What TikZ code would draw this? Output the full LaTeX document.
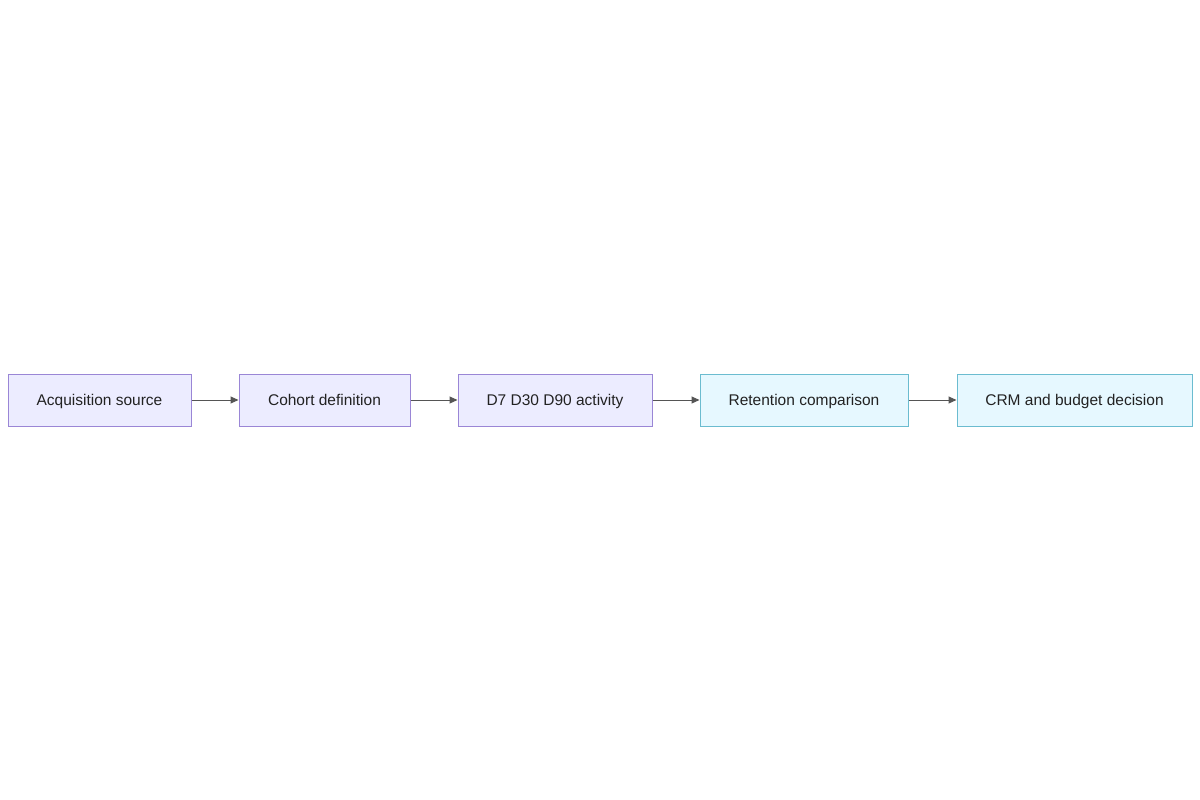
\documentclass[tikz,border=0pt]{standalone}
\usepackage{fontspec}
\setmainfont{Liberation Sans}
\usetikzlibrary{arrows.meta}
\definecolor{pfill}{HTML}{ECECFF}
\definecolor{pdraw}{HTML}{9A86D6}
\definecolor{cfill}{HTML}{E6F8FF}
\definecolor{cdraw}{HTML}{6BBCD0}
\definecolor{edge}{HTML}{555555}
\definecolor{txt}{HTML}{222222}
\begin{document}
\begin{tikzpicture}[x=1pt,y=-1pt,
  box/.style={draw=pdraw,fill=pfill,line width=1pt,minimum height=52pt,inner sep=0pt,text height=12pt,text depth=2pt,text=txt,font=\fontsize{15.5}{18}\selectfont},
  cbox/.style={box,draw=cdraw,fill=cfill},
  conn/.style={draw=edge,line width=1pt,-{Triangle[length=8pt,width=7pt]}}]
\path[fill=white] (0,0) rectangle (1200,800);
\node[box,minimum width=183pt] (a) at (99.5,400) {Acquisition source};
\node[box,minimum width=171pt] (b) at (324.5,400) {Cohort definition};
\node[box,minimum width=194pt] (c) at (555,400) {D7 D30 D90 activity};
\node[cbox,minimum width=208pt] (d) at (804,400) {Retention comparison};
\node[cbox,minimum width=235pt] (e) at (1074.5,400) {CRM and budget decision};
\draw[conn] (a) -- (b);
\draw[conn] (b) -- (c);
\draw[conn] (c) -- (d);
\draw[conn] (d) -- (e);
\end{tikzpicture}
\end{document}
